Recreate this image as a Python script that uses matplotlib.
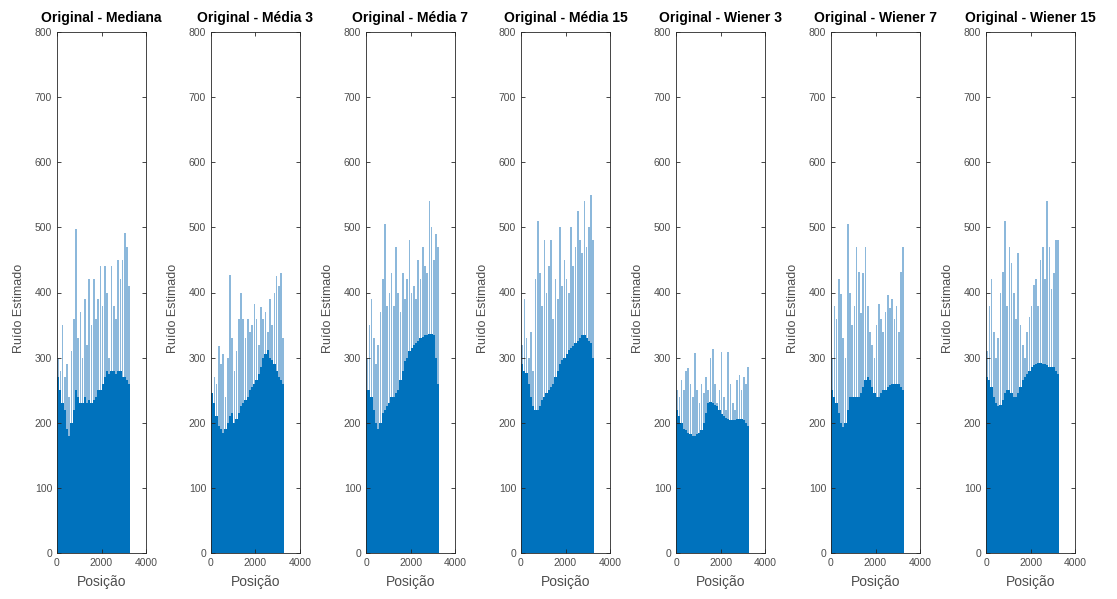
import matplotlib.pyplot as plt
import numpy as np

plt.rcParams['font.family'] = ['Liberation Sans', 'DejaVu Sans']

titles = ['Original - Mediana', 'Original - Média 3', 'Original - Média 7',
          'Original - Média 15', 'Original - Wiener 3', 'Original - Wiener 7',
          'Original - Wiener 15']

# each value covers 100 positions (0..3300)
bin_size = 100

peak_mediana = [300, 280, 350, 270, 290, 240, 310, 360, 497, 330, 370, 300, 390, 320, 420, 350, 420,
                360, 390, 440, 380, 440, 400, 300, 440, 380, 360, 450, 420, 450, 492, 470, 410]
base_mediana = [270, 250, 230, 220, 190, 180, 200, 220, 250, 240, 230, 230, 240, 230, 235, 230, 235,
                240, 250, 250, 260, 270, 280, 275, 280, 280, 275, 280, 280, 270, 270, 265, 260]

peak_media3 = [240, 270, 260, 318, 290, 305, 240, 300, 427, 330, 280, 310, 360, 400, 360, 330, 360,
               340, 350, 383, 360, 320, 378, 360, 370, 340, 390, 350, 400, 425, 410, 430, 330]
base_media3 = [245, 230, 210, 195, 190, 185, 190, 200, 210, 215, 200, 205, 215, 225, 230, 235, 240,
               250, 255, 260, 265, 275, 285, 300, 305, 311, 300, 296, 290, 280, 271, 265, 260]

peak_media7 = [300, 350, 390, 330, 290, 320, 370, 420, 505, 380, 400, 430, 380, 470, 400, 370, 430,
               390, 420, 480, 400, 410, 390, 450, 420, 470, 440, 430, 540, 500, 450, 490, 470]
base_media7 = [250, 250, 240, 220, 200, 190, 200, 215, 220, 225, 230, 240, 240, 245, 250, 265, 280,
               295, 300, 310, 315, 320, 322, 325, 330, 332, 335, 335, 337, 337, 335, 300, 260]

peak_media15 = [320, 390, 330, 300, 340, 280, 420, 510, 430, 380, 480, 400, 440, 480, 360, 420, 390,
                500, 410, 450, 420, 400, 500, 440, 470, 525, 480, 460, 540, 470, 500, 550, 480]
base_media15 = [290, 280, 276, 260, 240, 225, 220, 220, 225, 235, 240, 245, 250, 255, 260, 270, 280,
                290, 296, 300, 305, 311, 315, 318, 322, 325, 330, 335, 335, 330, 325, 322, 300]

peak_wiener3 = [250, 240, 266, 250, 280, 284, 260, 240, 307, 250, 230, 260, 245, 270, 250, 300, 314,
                260, 230, 250, 309, 240, 220, 309, 260, 230, 220, 265, 273, 250, 270, 260, 286]
base_wiener3 = [220, 210, 200, 190, 189, 185, 182, 180, 179, 182, 185, 189, 200, 215, 230, 232, 230,
                228, 225, 220, 214, 210, 208, 205, 204, 204, 204, 205, 206, 205, 204, 200, 195]

peak_wiener7 = [300, 380, 360, 420, 398, 330, 300, 505, 400, 350, 380, 470, 432, 368, 430, 470, 380,
                340, 320, 300, 350, 383, 360, 340, 370, 396, 376, 390, 360, 380, 340, 432, 470]
base_wiener7 = [250, 240, 230, 215, 200, 194, 200, 220, 240, 240, 240, 240, 240, 245, 255, 265, 271,
                265, 255, 245, 240, 240, 245, 250, 250, 255, 258, 260, 260, 260, 260, 255, 250]

peak_wiener15 = [310, 380, 420, 340, 300, 330, 400, 432, 510, 380, 470, 445, 400, 360, 460, 350, 320,
                 300, 340, 363, 380, 412, 420, 380, 450, 470, 420, 540, 470, 406, 430, 480, 480]
base_wiener15 = [271, 265, 255, 240, 230, 225, 228, 235, 245, 250, 250, 245, 240, 240, 245, 255, 265,
                 271, 275, 280, 286, 288, 290, 291, 291, 290, 290, 288, 286, 286, 286, 280, 275]

peaks = [peak_mediana, peak_media3, peak_media7, peak_media15, peak_wiener3, peak_wiener7, peak_wiener15]
bases = [base_mediana, base_media3, base_media7, base_media15, base_wiener3, base_wiener7, base_wiener15]

blue = '#0072BD'
dark = '#262626'
grey = '#4d4d4d'

fig = plt.figure(figsize=(11.17, 5.99), dpi=100)

W, H = 1117, 599
lefts = [57, 211, 366, 521, 676, 831, 986]
for k in range(7):
    ax = fig.add_axes([lefts[k] / W, (H - 553) / H, 89 / W, 521 / H])
    x = np.arange(len(peaks[k])) * bin_size + bin_size / 2
    ax.bar(x, peaks[k], width=bin_size * 0.75, color='#6fa6d2', alpha=0.8, linewidth=0)
    ax.bar(x, bases[k], width=bin_size, color=blue, linewidth=0)
    ax.set_xlim(0, 4000)
    ax.set_ylim(0, 800)
    ax.set_xticks([0, 2000, 4000])
    ax.set_yticks(range(0, 801, 100))
    ax.tick_params(direction='in', top=True, right=True, labelsize=7.5, colors=dark,
                   labelcolor=grey, length=3, width=0.6)
    for s in ax.spines.values():
        s.set_color(dark)
        s.set_linewidth(0.6)
    ax.set_title(titles[k], fontsize=10, fontweight='bold', pad=7)
    ax.set_xlabel('Posição', fontsize=10, color=grey, labelpad=5)
    ax.set_ylabel('Ruído Estimado', fontsize=9, color=grey)
    ax.yaxis.set_label_coords(-0.36, 0.47)

fig.savefig('out.png', dpi=100)
